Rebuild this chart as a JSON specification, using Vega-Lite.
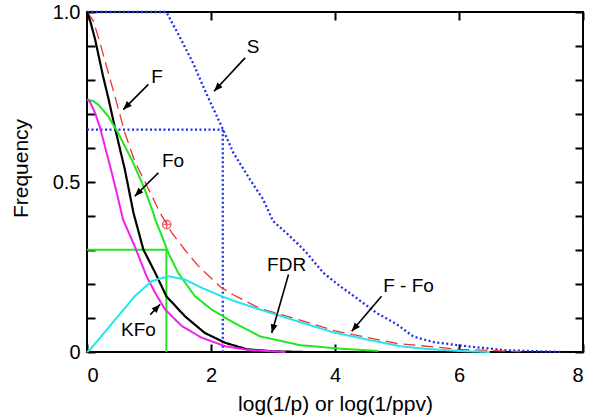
{
  "$schema": "https://vega.github.io/schema/vega-lite/v6.json",
  "autosize": "none",
  "width": 496,
  "height": 340,
  "padding": {"left": 87, "top": 12, "right": 14, "bottom": 67},
  "background": "white",
  "config": {
    "view": {"stroke": "black", "strokeWidth": 2},
    "font": "Liberation Sans",
    "axis": {"grid": false, "domain": false, "labelColor": "black", "titleColor": "black", "labelFont": "Liberation Sans", "titleFont": "Liberation Sans", "labelFontWeight": "normal", "titleFontWeight": "normal"}
  },
  "datasets": {
    "curves": [
      {"s": "S", "x": 0, "y": 1}, {"s": "S", "x": 1.28, "y": 1}, {"s": "S", "x": 1.5, "y": 0.925}, {"s": "S", "x": 1.71, "y": 0.85}, {"s": "S", "x": 1.93, "y": 0.758}, {"s": "S", "x": 2.2, "y": 0.652}, {"s": "S", "x": 2.36, "y": 0.586}, {"s": "S", "x": 2.63, "y": 0.507}, {"s": "S", "x": 2.84, "y": 0.449}, {"s": "S", "x": 3.0, "y": 0.385}, {"s": "S", "x": 3.27, "y": 0.341}, {"s": "S", "x": 3.44, "y": 0.311}, {"s": "S", "x": 3.54, "y": 0.292}, {"s": "S", "x": 3.81, "y": 0.233}, {"s": "S", "x": 4.08, "y": 0.194}, {"s": "S", "x": 4.3, "y": 0.165}, {"s": "S", "x": 4.67, "y": 0.115}, {"s": "S", "x": 5.0, "y": 0.081}, {"s": "S", "x": 5.26, "y": 0.046}, {"s": "S", "x": 5.59, "y": 0.029}, {"s": "S", "x": 6.12, "y": 0.017}, {"s": "S", "x": 6.77, "y": 0.005}, {"s": "S", "x": 7.68, "y": 0.0},
      {"s": "F", "x": 0, "y": 1}, {"s": "F", "x": 0.1, "y": 0.975}, {"s": "F", "x": 0.2, "y": 0.915}, {"s": "F", "x": 0.3, "y": 0.85}, {"s": "F", "x": 0.45, "y": 0.752}, {"s": "F", "x": 0.61, "y": 0.645}, {"s": "F", "x": 0.77, "y": 0.561}, {"s": "F", "x": 0.94, "y": 0.498}, {"s": "F", "x": 1.18, "y": 0.409}, {"s": "F", "x": 1.37, "y": 0.35}, {"s": "F", "x": 1.58, "y": 0.3}, {"s": "F", "x": 1.8, "y": 0.252}, {"s": "F", "x": 2.15, "y": 0.192}, {"s": "F", "x": 2.35, "y": 0.169}, {"s": "F", "x": 2.79, "y": 0.128}, {"s": "F", "x": 3.33, "y": 0.1}, {"s": "F", "x": 4.0, "y": 0.062}, {"s": "F", "x": 5.0, "y": 0.025}, {"s": "F", "x": 6.0, "y": 0.008}, {"s": "F", "x": 7.0, "y": 0.001},
      {"s": "K", "x": 0, "y": 1}, {"s": "K", "x": 0.05, "y": 0.975}, {"s": "K", "x": 0.13, "y": 0.92}, {"s": "K", "x": 0.26, "y": 0.81}, {"s": "K", "x": 0.34, "y": 0.75}, {"s": "K", "x": 0.45, "y": 0.66}, {"s": "K", "x": 0.61, "y": 0.537}, {"s": "K", "x": 0.75, "y": 0.409}, {"s": "K", "x": 0.91, "y": 0.301}, {"s": "K", "x": 1.1, "y": 0.233}, {"s": "K", "x": 1.28, "y": 0.164}, {"s": "K", "x": 1.58, "y": 0.105}, {"s": "K", "x": 1.9, "y": 0.056}, {"s": "K", "x": 2.23, "y": 0.027}, {"s": "K", "x": 2.58, "y": 0.008}, {"s": "K", "x": 3.0, "y": 0.002}, {"s": "K", "x": 3.5, "y": 0},
      {"s": "Fo", "x": 0, "y": 0.743}, {"s": "Fo", "x": 0.1, "y": 0.738}, {"s": "Fo", "x": 0.18, "y": 0.728}, {"s": "Fo", "x": 0.34, "y": 0.694}, {"s": "Fo", "x": 0.5, "y": 0.645}, {"s": "Fo", "x": 0.72, "y": 0.566}, {"s": "Fo", "x": 0.91, "y": 0.488}, {"s": "Fo", "x": 1.07, "y": 0.409}, {"s": "Fo", "x": 1.1, "y": 0.39}, {"s": "Fo", "x": 1.23, "y": 0.331}, {"s": "Fo", "x": 1.31, "y": 0.292}, {"s": "Fo", "x": 1.47, "y": 0.233}, {"s": "Fo", "x": 1.74, "y": 0.164}, {"s": "Fo", "x": 2.01, "y": 0.125}, {"s": "Fo", "x": 2.33, "y": 0.09}, {"s": "Fo", "x": 2.79, "y": 0.046}, {"s": "Fo", "x": 3.44, "y": 0.02}, {"s": "Fo", "x": 4.08, "y": 0.01}, {"s": "Fo", "x": 4.7, "y": 0.003},
      {"s": "KFo", "x": 0, "y": 0.743}, {"s": "KFo", "x": 0.05, "y": 0.735}, {"s": "KFo", "x": 0.13, "y": 0.703}, {"s": "KFo", "x": 0.21, "y": 0.66}, {"s": "KFo", "x": 0.26, "y": 0.625}, {"s": "KFo", "x": 0.4, "y": 0.527}, {"s": "KFo", "x": 0.48, "y": 0.468}, {"s": "KFo", "x": 0.58, "y": 0.39}, {"s": "KFo", "x": 0.77, "y": 0.311}, {"s": "KFo", "x": 0.96, "y": 0.223}, {"s": "KFo", "x": 1.1, "y": 0.174}, {"s": "KFo", "x": 1.26, "y": 0.125}, {"s": "KFo", "x": 1.53, "y": 0.076}, {"s": "KFo", "x": 1.85, "y": 0.042}, {"s": "KFo", "x": 2.23, "y": 0.017}, {"s": "KFo", "x": 2.6, "y": 0.006}, {"s": "KFo", "x": 3.2, "y": 0},
      {"s": "FFo", "x": 0, "y": 0}, {"s": "FFo", "x": 0.05, "y": 0.007}, {"s": "FFo", "x": 0.5, "y": 0.105}, {"s": "FFo", "x": 0.77, "y": 0.164}, {"s": "FFo", "x": 1.04, "y": 0.208}, {"s": "FFo", "x": 1.31, "y": 0.223}, {"s": "FFo", "x": 1.58, "y": 0.213}, {"s": "FFo", "x": 1.85, "y": 0.189}, {"s": "FFo", "x": 2.17, "y": 0.164}, {"s": "FFo", "x": 2.39, "y": 0.149}, {"s": "FFo", "x": 2.79, "y": 0.125}, {"s": "FFo", "x": 3.33, "y": 0.094}, {"s": "FFo", "x": 3.97, "y": 0.058}, {"s": "FFo", "x": 4.51, "y": 0.037}, {"s": "FFo", "x": 5.05, "y": 0.017}, {"s": "FFo", "x": 5.48, "y": 0.009}, {"s": "FFo", "x": 6.0, "y": 0.003}, {"s": "FFo", "x": 6.5, "y": 0}
    ],
    "refs": [
      {"s": "Sref", "x": 0, "y": 0.654, "x2": 2.19, "y2": 0.654},
      {"s": "Sref", "x": 2.19, "y": 0.654, "x2": 2.19, "y2": 0},
      {"s": "Gref", "x": 0, "y": 0.301, "x2": 1.28, "y2": 0.301},
      {"s": "Gref", "x": 1.28, "y": 0.301, "x2": 1.28, "y2": 0}
    ],
    "marker": [{"x": 1.285, "y": 0.375}],
    "notes": [
      {"label": "S", "tx": 2.68, "ty": 0.897, "x1": 2.55, "y1": 0.865, "x2": 2.05, "y2": 0.767},
      {"label": "F", "tx": 1.13, "ty": 0.809, "x1": 0.99, "y1": 0.787, "x2": 0.585, "y2": 0.713},
      {"label": "Fo", "tx": 1.387, "ty": 0.563, "x1": 1.15, "y1": 0.527, "x2": 0.77, "y2": 0.458},
      {"label": "FDR", "tx": 3.22, "ty": 0.257, "x1": 3.25, "y1": 0.228, "x2": 2.98, "y2": 0.056},
      {"label": "F - Fo", "tx": 5.185, "ty": 0.194, "x1": 4.75, "y1": 0.164, "x2": 4.27, "y2": 0.061},
      {"label": "KFo", "tx": 0.83, "ty": 0.066, "x1": 1.02, "y1": 0.11, "x2": 1.18, "y2": 0.14}
    ]
  },
  "resolve": {"axis": {"x": "independent", "y": "independent"}},
  "layer": [
    {
      "data": {"name": "curves"},
      "mark": {"type": "line", "opacity": 0},
      "encoding": {
        "x": {"field": "x", "type": "quantitative", "scale": {"domain": [0, 8], "nice": false, "zero": false},
              "axis": {"orient": "top", "values": [0, 2, 4, 6, 8], "labels": false, "title": null, "offset": -8, "tickSize": 8, "tickColor": "black", "tickWidth": 2}},
        "y": {"field": "y", "type": "quantitative", "scale": {"domain": [0, 1], "nice": false},
              "axis": {"orient": "right", "values": [0, 0.1, 0.2, 0.3, 0.4, 0.5, 0.6, 0.7, 0.8, 0.9, 1], "labels": false, "title": null, "offset": -8, "tickSize": 8, "tickColor": "black", "tickWidth": 2}},
        "detail": {"field": "s"}
      }
    },
    {
      "data": {"name": "refs"},
      "transform": [{"filter": "datum.s == 'Sref'"}],
      "mark": {"type": "rule", "strokeCap": "butt", "color": "#1f2ee8", "strokeDash": [2, 2.5], "strokeWidth": 2.3},
      "encoding": {
        "x": {"field": "x", "type": "quantitative", "axis": null},
        "y": {"field": "y", "type": "quantitative", "axis": null},
        "x2": {"field": "x2"},
        "y2": {"field": "y2"}
      }
    },
    {
      "data": {"name": "refs"},
      "transform": [{"filter": "datum.s == 'Gref'"}],
      "mark": {"type": "rule", "strokeCap": "butt", "color": "#22e622", "strokeWidth": 2},
      "encoding": {
        "x": {"field": "x", "type": "quantitative", "axis": null},
        "y": {"field": "y", "type": "quantitative", "axis": null},
        "x2": {"field": "x2"},
        "y2": {"field": "y2"}
      }
    },
    {
      "data": {"name": "curves"},
      "mark": {"type": "line", "strokeCap": "butt", "strokeJoin": "round"},
      "encoding": {
        "x": {"field": "x", "type": "quantitative",
              "axis": {"orient": "bottom", "values": [0, 2, 4, 6, 8], "title": "log(1/p) or log(1/ppv)", "offset": -8, "tickSize": 8, "tickColor": "black", "tickWidth": 2, "labelFontSize": 20, "labelPadding": 13, "titleFontSize": 21, "titlePadding": 8}},
        "y": {"field": "y", "type": "quantitative",
              "axis": {"orient": "left", "values": [0, 0.1, 0.2, 0.3, 0.4, 0.5, 0.6, 0.7, 0.8, 0.9, 1], "title": "Frequency", "offset": -8, "tickSize": 8, "tickColor": "black", "tickWidth": 2, "labelFontSize": 20, "labelPadding": 7, "titleFontSize": 21, "titlePadding": 21, "titleY": 156,
                       "labelExpr": "datum.value == 0 ? '0' : abs(datum.value - 0.5) < 0.001 ? '0.5' : datum.value == 1 ? '1.0' : ''"}},
        "color": {"field": "s", "type": "nominal", "scale": {"domain": ["S", "F", "K", "Fo", "FFo", "KFo"], "range": ["#1f2ee8", "#f03232", "#000000", "#22e622", "#22e5f0", "#ee22ee"]}, "legend": null},
        "strokeDash": {"field": "s", "type": "nominal", "scale": {"domain": ["S", "F", "K", "Fo", "FFo", "KFo"], "range": [[2, 2.5], [12, 6], [1, 0], [1, 0], [1, 0], [1, 0]]}, "legend": null},
        "strokeWidth": {"field": "s", "type": "nominal", "scale": {"type": "ordinal", "domain": ["S", "F", "K", "Fo", "FFo", "KFo"], "range": [2.3, 1.3, 2.2, 2, 2, 2]}, "legend": null},
        "order": {"field": "x", "type": "quantitative"}
      }
    },
    {
      "data": {"name": "marker"},
      "mark": {"type": "point", "shape": "M-1,0A1,1 0 1,1 1,0A1,1 0 1,1 -1,0M-1,0L1,0M0,-1L0,1", "filled": false, "stroke": "#f03232", "strokeWidth": 1.3, "size": 72},
      "encoding": {
        "x": {"field": "x", "type": "quantitative", "axis": null},
        "y": {"field": "y", "type": "quantitative", "axis": null}
      }
    },
    {
      "data": {"name": "notes"},
      "mark": {"type": "rule", "color": "black", "strokeWidth": 1.6},
      "encoding": {
        "x": {"field": "x1", "type": "quantitative", "axis": null},
        "y": {"field": "y1", "type": "quantitative", "axis": null},
        "x2": {"field": "x2"},
        "y2": {"field": "y2"}
      }
    },
    {
      "data": {"name": "notes"},
      "transform": [{"calculate": "atan2((datum.x2 - datum.x1) * 62, (datum.y2 - datum.y1) * 340) * 180 / PI", "as": "ang"}],
      "mark": {"type": "point", "shape": "M0,0L-0.4,1L0.4,1Z", "filled": true, "color": "black", "opacity": 1, "size": 300},
      "encoding": {
        "x": {"field": "x2", "type": "quantitative", "axis": null},
        "y": {"field": "y2", "type": "quantitative", "axis": null},
        "angle": {"field": "ang", "type": "quantitative", "scale": null}
      }
    },
    {
      "data": {"name": "notes"},
      "mark": {"type": "text", "fontSize": 19, "font": "Liberation Sans", "color": "black", "align": "center", "baseline": "middle"},
      "encoding": {
        "x": {"field": "tx", "type": "quantitative", "axis": null},
        "y": {"field": "ty", "type": "quantitative", "axis": null},
        "text": {"field": "label"}
      }
    }
  ]
}
